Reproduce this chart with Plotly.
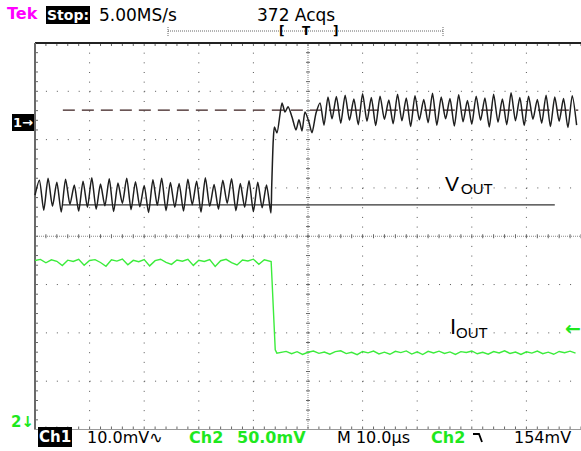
import plotly.graph_objects as go

W, H = 581, 451

# ---------------- data (time in µs, Ch1 in mV, Ch2 in mV) ----------------
# Ch1 (VOUT) before the load step: sample start / interval, peak-trough readings
VOUT_PRE_T0 = -50.0
VOUT_PRE_DT = 0.8
VOUT_PRE_MV = [8.5, 11.6, 5.4, 12.0, 6.2, 11.2, 5.0, 11.8, 6.6, 10.6,
               5.2, 11.4, 6.0, 12.1, 5.6, 10.8, 6.3, 11.9, 5.1, 11.0,
               6.8, 12.0, 5.5, 11.3, 6.1, 10.5, 4.9, 11.7, 6.4, 12.0,
               5.3, 11.1, 6.0, 10.9, 5.2, 11.8, 6.5, 11.4, 5.0, 12.1,
               6.2, 10.7, 5.6, 11.6, 6.8, 11.9, 5.3, 10.9, 6.0, 11.5,
               5.1, 11.2, 5.9, 10.6, 4.8]
# Ch1 around the step
VOUT_STEP_T = [-6.65, -6.36, -6.14, -5.68, -4.76, -4.21, -3.66, -2.93, -2.20, -1.65,
               -1.10, -0.55, 0.18, 0.73, 1.47, 2.20, 2.93, 3.66, 4.40]
VOUT_STEP_MV = [10.2, 19.9, 22.6, 21.4, 27.6, 25.7, 26.8, 24.7, 22.0, 24.1,
                21.8, 25.7, 23.6, 21.4, 25.5, 27.6, 23.0, 28.8, 24.3]
# Ch1 after the step
VOUT_POST_T0 = 5.2
VOUT_POST_DT = 0.8
VOUT_POST_MV = [28.9, 23.4, 29.2, 24.0, 28.4, 23.1, 29.5, 23.8, 28.7, 22.9,
                29.0, 24.2, 28.2, 23.3, 29.4, 23.9, 28.6, 22.7, 29.1, 24.1,
                28.3, 23.5, 29.6, 23.0, 28.8, 24.3, 28.5, 22.8, 29.3, 23.7,
                28.1, 23.2, 29.0, 24.0, 28.6, 22.6, 29.4, 23.6, 28.4, 23.1,
                29.7, 23.9, 28.7, 22.9, 29.0, 24.2, 28.3, 23.4, 29.2, 22.7,
                28.8, 23.8, 28.5, 22.5, 29.1, 23.0]

# Ch1 cursor lines
VOUT_REF_T = [-44.9, 49.5]
VOUT_REF_MV = 26.1
VOUT_BASE_T = [-44.9, 45.2]
VOUT_BASE_MV = 6.5

# Ch2 (IOUT) before the step
IOUT_PRE_T0 = -50.0
IOUT_PRE_DT = 1.0
IOUT_PRE_MV = [223.8, 225.0, 221.5, 224.6, 223.0, 218.6, 224.2, 222.8, 225.1, 219.0,
               223.9, 224.7, 221.8, 217.9, 224.5, 223.2, 225.3, 219.4, 224.0, 222.6,
               224.9, 218.3, 223.7, 225.2, 222.0, 219.8, 224.4, 223.1, 225.0, 218.8,
               224.1, 222.9, 224.8, 217.6, 223.6, 225.1, 221.7, 219.2, 224.3, 223.4,
               225.2, 219.9, 224.6, 223.0]
IOUT_EDGE_T = [-6.75, -6.6, -6.4, -6.2, -6.0, -5.7]
IOUT_EDGE_MV = [222.8, 205.0, 174.0, 150.0, 131.5, 128.0]
IOUT_POST_T0 = -5.0
IOUT_POST_DT = 1.0
IOUT_POST_MV = [128.6, 129.8, 127.4, 129.5, 126.6, 128.9, 130.2, 127.8, 129.1, 126.9,
                129.6, 130.4, 127.5, 128.8, 126.4, 129.7, 128.3, 130.1, 127.2, 129.0,
                126.8, 129.9, 128.5, 130.3, 127.0, 129.3, 126.5, 129.8, 128.1, 130.0,
                127.6, 129.2, 126.7, 129.5, 128.7, 130.2, 127.3, 128.9, 126.9, 129.6,
                128.2, 130.4, 127.7, 129.1, 126.6, 129.4, 128.0, 130.1, 127.4, 129.0,
                126.8, 129.7, 128.4, 130.0, 127.9]

# ---------------- scope screen geometry ----------------
T_DIV = 10.0          # µs / div
CH1_DIV = 10.0        # mV / div
CH2_DIV = 50.0        # mV / div
CH2_GND_DIV = -4.979  # Ch2 ground position in divisions
X_RANGE = [-56.41, 50.0]
Y_RANGE = [-44.451, 48.900]
Y2_RANGE = [(Y_RANGE[0] / CH1_DIV - CH2_GND_DIV) * CH2_DIV,
            (Y_RANGE[1] / CH1_DIV - CH2_GND_DIV) * CH2_DIV]
PX_X = (X_RANGE[1] - X_RANGE[0]) / W   # data units per pixel
PX_Y = (Y_RANGE[1] - Y_RANGE[0]) / H


def series(t0, dt, vals):
    return [t0 + i * dt for i in range(len(vals))], list(vals)


t1a, v1a = series(VOUT_PRE_T0, VOUT_PRE_DT, VOUT_PRE_MV)
t1c, v1c = series(VOUT_POST_T0, VOUT_POST_DT, VOUT_POST_MV)
vout_t = t1a + VOUT_STEP_T + t1c
vout_v = v1a + VOUT_STEP_MV + v1c

t2a, v2a = series(IOUT_PRE_T0, IOUT_PRE_DT, IOUT_PRE_MV)
t2c, v2c = series(IOUT_POST_T0, IOUT_POST_DT, IOUT_POST_MV)
iout_t = t2a + IOUT_EDGE_T + t2c
iout_v = v2a + IOUT_EDGE_MV + v2c

fig = go.Figure()

# ---------------- graticule ----------------
shapes = []
GRID = '#555555'
xmin, xmax = -5 * T_DIV, 5 * T_DIV
ymin, ymax = -4 * CH1_DIV, 4 * CH1_DIV
minor_px_x = (T_DIV / 5) / PX_X
minor_px_y = (CH1_DIV / 5) / PX_Y

for k in range(-3, 4):
    y = k * CH1_DIV
    if k == 0:
        shapes.append(dict(type='line', xref='x', yref='y', x0=xmin, x1=xmax, y0=y, y1=y,
                           line=dict(color='#8a8a8a', width=1, dash='1px,1px'), layer='below'))
    else:
        shapes.append(dict(type='line', xref='x', yref='y', x0=xmin, x1=xmax, y0=y, y1=y,
                           line=dict(color=GRID, width=1, dash='1px,%.3fpx' % (minor_px_x - 1)),
                           layer='below'))
for k in range(-4, 5):
    x = k * T_DIV
    if k == 0:
        shapes.append(dict(type='line', xref='x', yref='y', x0=x, x1=x, y0=ymax, y1=ymin,
                           line=dict(color='#8a8a8a', width=1, dash='1px,1px'), layer='below'))
    else:
        shapes.append(dict(type='line', xref='x', yref='y', x0=x, x1=x, y0=ymax, y1=ymin,
                           line=dict(color=GRID, width=1, dash='1px,%.3fpx' % (minor_px_y - 1)),
                           layer='below'))

# tick marks on borders and centre crosshair
p = []
n_x = int(round((xmax - xmin) / (T_DIV / 5)))
n_y = int(round((ymax - ymin) / (CH1_DIV / 5)))
for i in range(n_x + 1):
    x = xmin + i * T_DIV / 5
    p.append('M%.4f,%.4f L%.4f,%.4f' % (x, ymax, x, ymax - 3 * PX_Y))
    p.append('M%.4f,%.4f L%.4f,%.4f' % (x, ymin, x, ymin + 3 * PX_Y))
    p.append('M%.4f,%.4f L%.4f,%.4f' % (x, -2 * PX_Y, x, 2 * PX_Y))
for i in range(n_y + 1):
    y = ymin + i * CH1_DIV / 5
    p.append('M%.4f,%.4f L%.4f,%.4f' % (xmin, y, xmin + 3 * PX_X, y))
    p.append('M%.4f,%.4f L%.4f,%.4f' % (-2 * PX_X, y, 2 * PX_X, y))
shapes.append(dict(type='path', xref='x', yref='y', path=' '.join(p),
                   line=dict(color='#666666', width=1), layer='below'))

# borders
shapes.append(dict(type='line', xref='x', yref='y', x0=xmin, x1=xmax, y0=ymax, y1=ymax,
                   line=dict(color='#222222', width=2), layer='below'))
shapes.append(dict(type='line', xref='x', yref='y', x0=xmin, x1=xmin, y0=ymin, y1=ymax,
                   line=dict(color='#6a6a6a', width=2), layer='below'))
shapes.append(dict(type='line', xref='x', yref='y', x0=xmin, x1=xmax, y0=ymin, y1=ymin,
                   line=dict(color='#9a9a9a', width=1), layer='below'))


def px(xp, yp):
    return xp / W, 1 - yp / H


# record-length bar at top
bx0, by = px(168, 31)
bx1, _ = px(443, 31)
shapes.append(dict(type='line', xref='paper', yref='paper', x0=bx0, x1=bx1, y0=by, y1=by,
                   line=dict(color='#666666', width=1, dash='1px,1px')))
for xe in (168, 443):
    a, b0 = px(xe, 27)
    _, b1 = px(xe, 36)
    shapes.append(dict(type='line', xref='paper', yref='paper', x0=a, x1=a, y0=b0, y1=b1,
                       line=dict(color='#666666', width=1, dash='1px,1px')))

# falling-edge trigger symbol
pts = [px(473, 434), px(479, 434), px(482, 442)]
shapes.append(dict(type='path', xref='paper', yref='paper',
                   path='M%.5f,%.5f L%.5f,%.5f L%.5f,%.5f' % (pts[0] + pts[1] + pts[2]),
                   line=dict(color='black', width=1.8)))

# ---------------- traces ----------------
fig.add_trace(go.Scatter(x=VOUT_REF_T, y=[VOUT_REF_MV] * 2, mode='lines',
                         line=dict(color='#3a1e1e', width=1.3, dash='12px,7px'),
                         hoverinfo='skip', showlegend=False))
fig.add_trace(go.Scatter(x=VOUT_BASE_T, y=[VOUT_BASE_MV] * 2, mode='lines',
                         line=dict(color='#333333', width=1.3),
                         hoverinfo='skip', showlegend=False))
fig.add_trace(go.Scatter(x=vout_t, y=vout_v, mode='lines', name='VOUT',
                         line=dict(color='#1e1e1e', width=1.5, shape='spline', smoothing=0.7),
                         showlegend=False))
fig.add_trace(go.Scatter(x=iout_t, y=iout_v, mode='lines', name='IOUT', yaxis='y2',
                         line=dict(color='#3cec3c', width=1.4), showlegend=False))

# ---------------- text ----------------
SCOPE_FONT = 'DejaVu Sans'
GREEN = '#1ee81e'
ann = []


def text(t, xp, yp, size, color='black', weight='normal', family=SCOPE_FONT, bg=None,
         xanchor='left', pad=0):
    x, y = px(xp, yp)
    d = dict(text=t, x=x, y=y, xref='paper', yref='paper', xanchor=xanchor, yanchor='middle',
             showarrow=False, borderpad=pad, borderwidth=0,
             font=dict(size=size, color=color, family=family, weight=weight))
    if bg:
        d['bgcolor'] = bg
    ann.append(d)


text('Tek', 7, 14, 16, color='#ff00ff', weight='bold')
text('Stop:', 46, 15, 14, color='white', weight='bold', bg='black', pad=1)
text('5.00MS/s', 99, 15, 17)
text('372 Acqs', 257, 15, 17)
text('[', 279, 31, 12, weight='bold')
text('T', 302, 31, 12, weight='bold')
text(']', 333, 31, 12, weight='bold')

text('1\u2192', 12, 123, 13, color='white', weight='bold', bg='black', pad=1)
text('2\u2193', 11, 422, 15, color=GREEN, weight='bold')
text('\u2190', 565, 328, 19, color=GREEN, weight='bold')

text('Ch1', 38, 437, 15, color='white', weight='bold', bg='black', pad=1)
text('10.0mV\u223F', 87, 437, 16)
text('Ch2', 189, 437, 16, color=GREEN, weight='bold')
text('50.0mV', 237, 437, 16, color=GREEN, weight='bold')
text('M 10.0\u00b5s', 337, 437, 16)
text('Ch2', 431, 437, 16, color=GREEN, weight='bold')
text('154mV', 514, 437, 16)

LBL = 'Liberation Sans'
text('V', 445, 183, 21, family=LBL)
text('OUT', 461, 188, 15, family=LBL)
text('I', 450, 326, 22, family=LBL)
text('OUT', 456, 332, 15, family=LBL)

fig.update_layout(
    width=W, height=H,
    margin=dict(l=0, r=0, t=0, b=0),
    paper_bgcolor='white', plot_bgcolor='white',
    xaxis=dict(range=X_RANGE, domain=[0, 1], visible=False, fixedrange=True),
    yaxis=dict(range=Y_RANGE, domain=[0, 1], visible=False, fixedrange=True),
    yaxis2=dict(range=Y2_RANGE, overlaying='y', visible=False, fixedrange=True),
    shapes=shapes, annotations=ann, showlegend=False,
)

fig.write_html('out.html')
